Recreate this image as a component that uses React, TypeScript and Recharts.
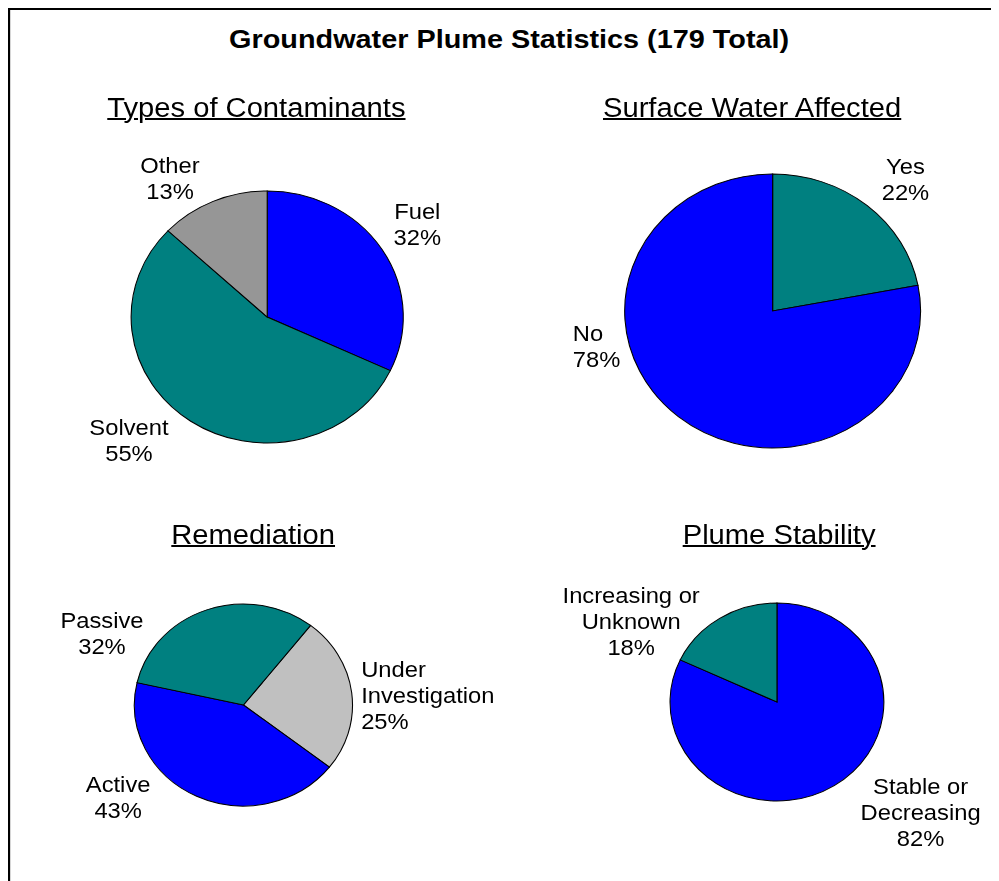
import { PieChart, Pie, Cell } from "recharts";

// values (percent of 179 plumes)
const contaminantNames = ["Fuel", "Solvent", "Other"];
const contaminantValues = [32, 55, 13];
const surfaceNames = ["Yes", "No"];
const surfaceValues = [22, 78];
const remediationNames = ["Under\nInvestigation", "Active", "Passive"];
const remediationValues = [25, 43, 32];
const stabilityNames = ["Stable or\nDecreasing", "Increasing or\nUnknown"];
const stabilityValues = [82, 18];

const BLUE = "#0000FF";
const TEAL = "#008080";
const FONT = "Arial, 'Liberation Sans', sans-serif";
const LINE_H = 26;
// the original picture is stretched a bit sideways, pies come out as ellipses
const STRETCH = 1.08;
const W = 917;
const H = 880;

const toRows = (names: string[], values: number[]) =>
  names.map((name, i) => ({ name, value: values[i] }));

type Offset = { dx: number; dy: number; anchor?: "start" | "middle" | "end" };

function makeLabel(offsets: Offset[]) {
  return (props: any) => {
    const { cx, cy, index, name, percent } = props;
    const o = offsets[index];
    const lines = [...String(name).split("\n"), `${Math.round(percent * 100)}%`];
    const x = cx + o.dx;
    const y0 = cy + o.dy - ((lines.length - 1) / 2) * LINE_H;
    return (
      <text
        x={x}
        y={y0}
        textAnchor={o.anchor ?? "middle"}
        dominantBaseline="central"
        fontSize={22}
        fontFamily={FONT}
        fill="#000"
      >
        {lines.map((l, i) => (
          <tspan key={i} x={x} y={y0 + i * LINE_H}>
            {l}
          </tspan>
        ))}
      </text>
    );
  };
}

const pies = [
  {
    key: "types",
    rows: toRows(contaminantNames, contaminantValues),
    colors: [BLUE, TEAL, "#969696"],
    cx: 240, cy: 309, r: 126, start: 90,
    labels: [
      { dx: 139, dy: -93 },
      { dx: -128, dy: 123 },
      { dx: -90, dy: -139 },
    ] as Offset[],
  },
  {
    key: "surface",
    rows: toRows(surfaceNames, surfaceValues),
    colors: [TEAL, BLUE],
    cx: 708, cy: 303, r: 137, start: 90,
    labels: [
      { dx: 123, dy: -132 },
      { dx: -185, dy: 35, anchor: "start" },
    ] as Offset[],
  },
  {
    key: "remediation",
    rows: toRows(remediationNames, remediationValues),
    colors: ["#C0C0C0", BLUE, TEAL],
    cx: 218, cy: 697, r: 101, start: 52,
    labels: [
      { dx: 109, dy: -10, anchor: "start" },
      { dx: -116, dy: 92 },
      { dx: -131, dy: -72 },
    ] as Offset[],
  },
  {
    key: "stability",
    rows: toRows(stabilityNames, stabilityValues),
    colors: [BLUE, TEAL],
    cx: 712, cy: 694, r: 99, start: 90,
    labels: [
      { dx: 133, dy: 110 },
      { dx: -135, dy: -81 },
    ] as Offset[],
  },
];

const subtitles = [
  { text: "Types of Contaminants", x: 230, y: 100 },
  { text: "Surface Water Affected", x: 689, y: 100 },
  { text: "Remediation", x: 227, y: 527 },
  { text: "Plume Stability", x: 714, y: 527 },
];

function Heading({ text, x, y, size, bold, underline }: any) {
  return (
    <div
      style={{
        position: "absolute",
        left: x - 300,
        top: y - size * 0.49,
        width: 600,
        textAlign: "center",
        fontFamily: FONT,
        fontSize: size,
        lineHeight: `${size}px`,
        fontWeight: bold ? 700 : 400,
        textDecoration: underline ? "underline" : "none",
        textDecorationThickness: underline ? 2 : undefined,
        color: "#000",
        whiteSpace: "nowrap",
      }}
    >
      {text}
    </div>
  );
}

export default function App() {
  return (
    <>
      <style>{"body{overflow:hidden}"}</style>
      <div
        style={{
          position: "relative",
          width: W,
          height: H,
          transform: `scaleX(${STRETCH})`,
          transformOrigin: "0 0",
          background: "#fff",
        }}
      >
        <div
          style={{
            position: "absolute",
            left: 0,
            top: 0,
            width: W,
            height: H,
            boxSizing: "border-box",
            borderLeft: "2px solid #000",
            borderTop: "2px solid #000",
          }}
        />
        <Heading text="Groundwater Plume Statistics (179 Total)" x={464} y={31} size={26.7} bold />
        {subtitles.map((s) => (
          <Heading key={s.text} text={s.text} x={s.x} y={s.y} size={27} underline />
        ))}
        <div style={{ position: "absolute", left: 0, top: 0 }}>
          <PieChart width={W} height={H} margin={{ top: 0, right: 0, bottom: 0, left: 0 }}>
            {pies.map((p) => (
              <Pie
                key={p.key}
                data={p.rows}
                dataKey="value"
                nameKey="name"
                cx={p.cx}
                cy={p.cy}
                outerRadius={p.r}
                startAngle={p.start}
                endAngle={p.start - 360}
                stroke="#000"
                strokeWidth={1}
                labelLine={false}
                label={makeLabel(p.labels)}
                isAnimationActive={false}
              >
                {p.rows.map((row, i) => (
                  <Cell key={row.name} fill={p.colors[i]} />
                ))}
              </Pie>
            ))}
          </PieChart>
        </div>
      </div>
    </>
  );
}
